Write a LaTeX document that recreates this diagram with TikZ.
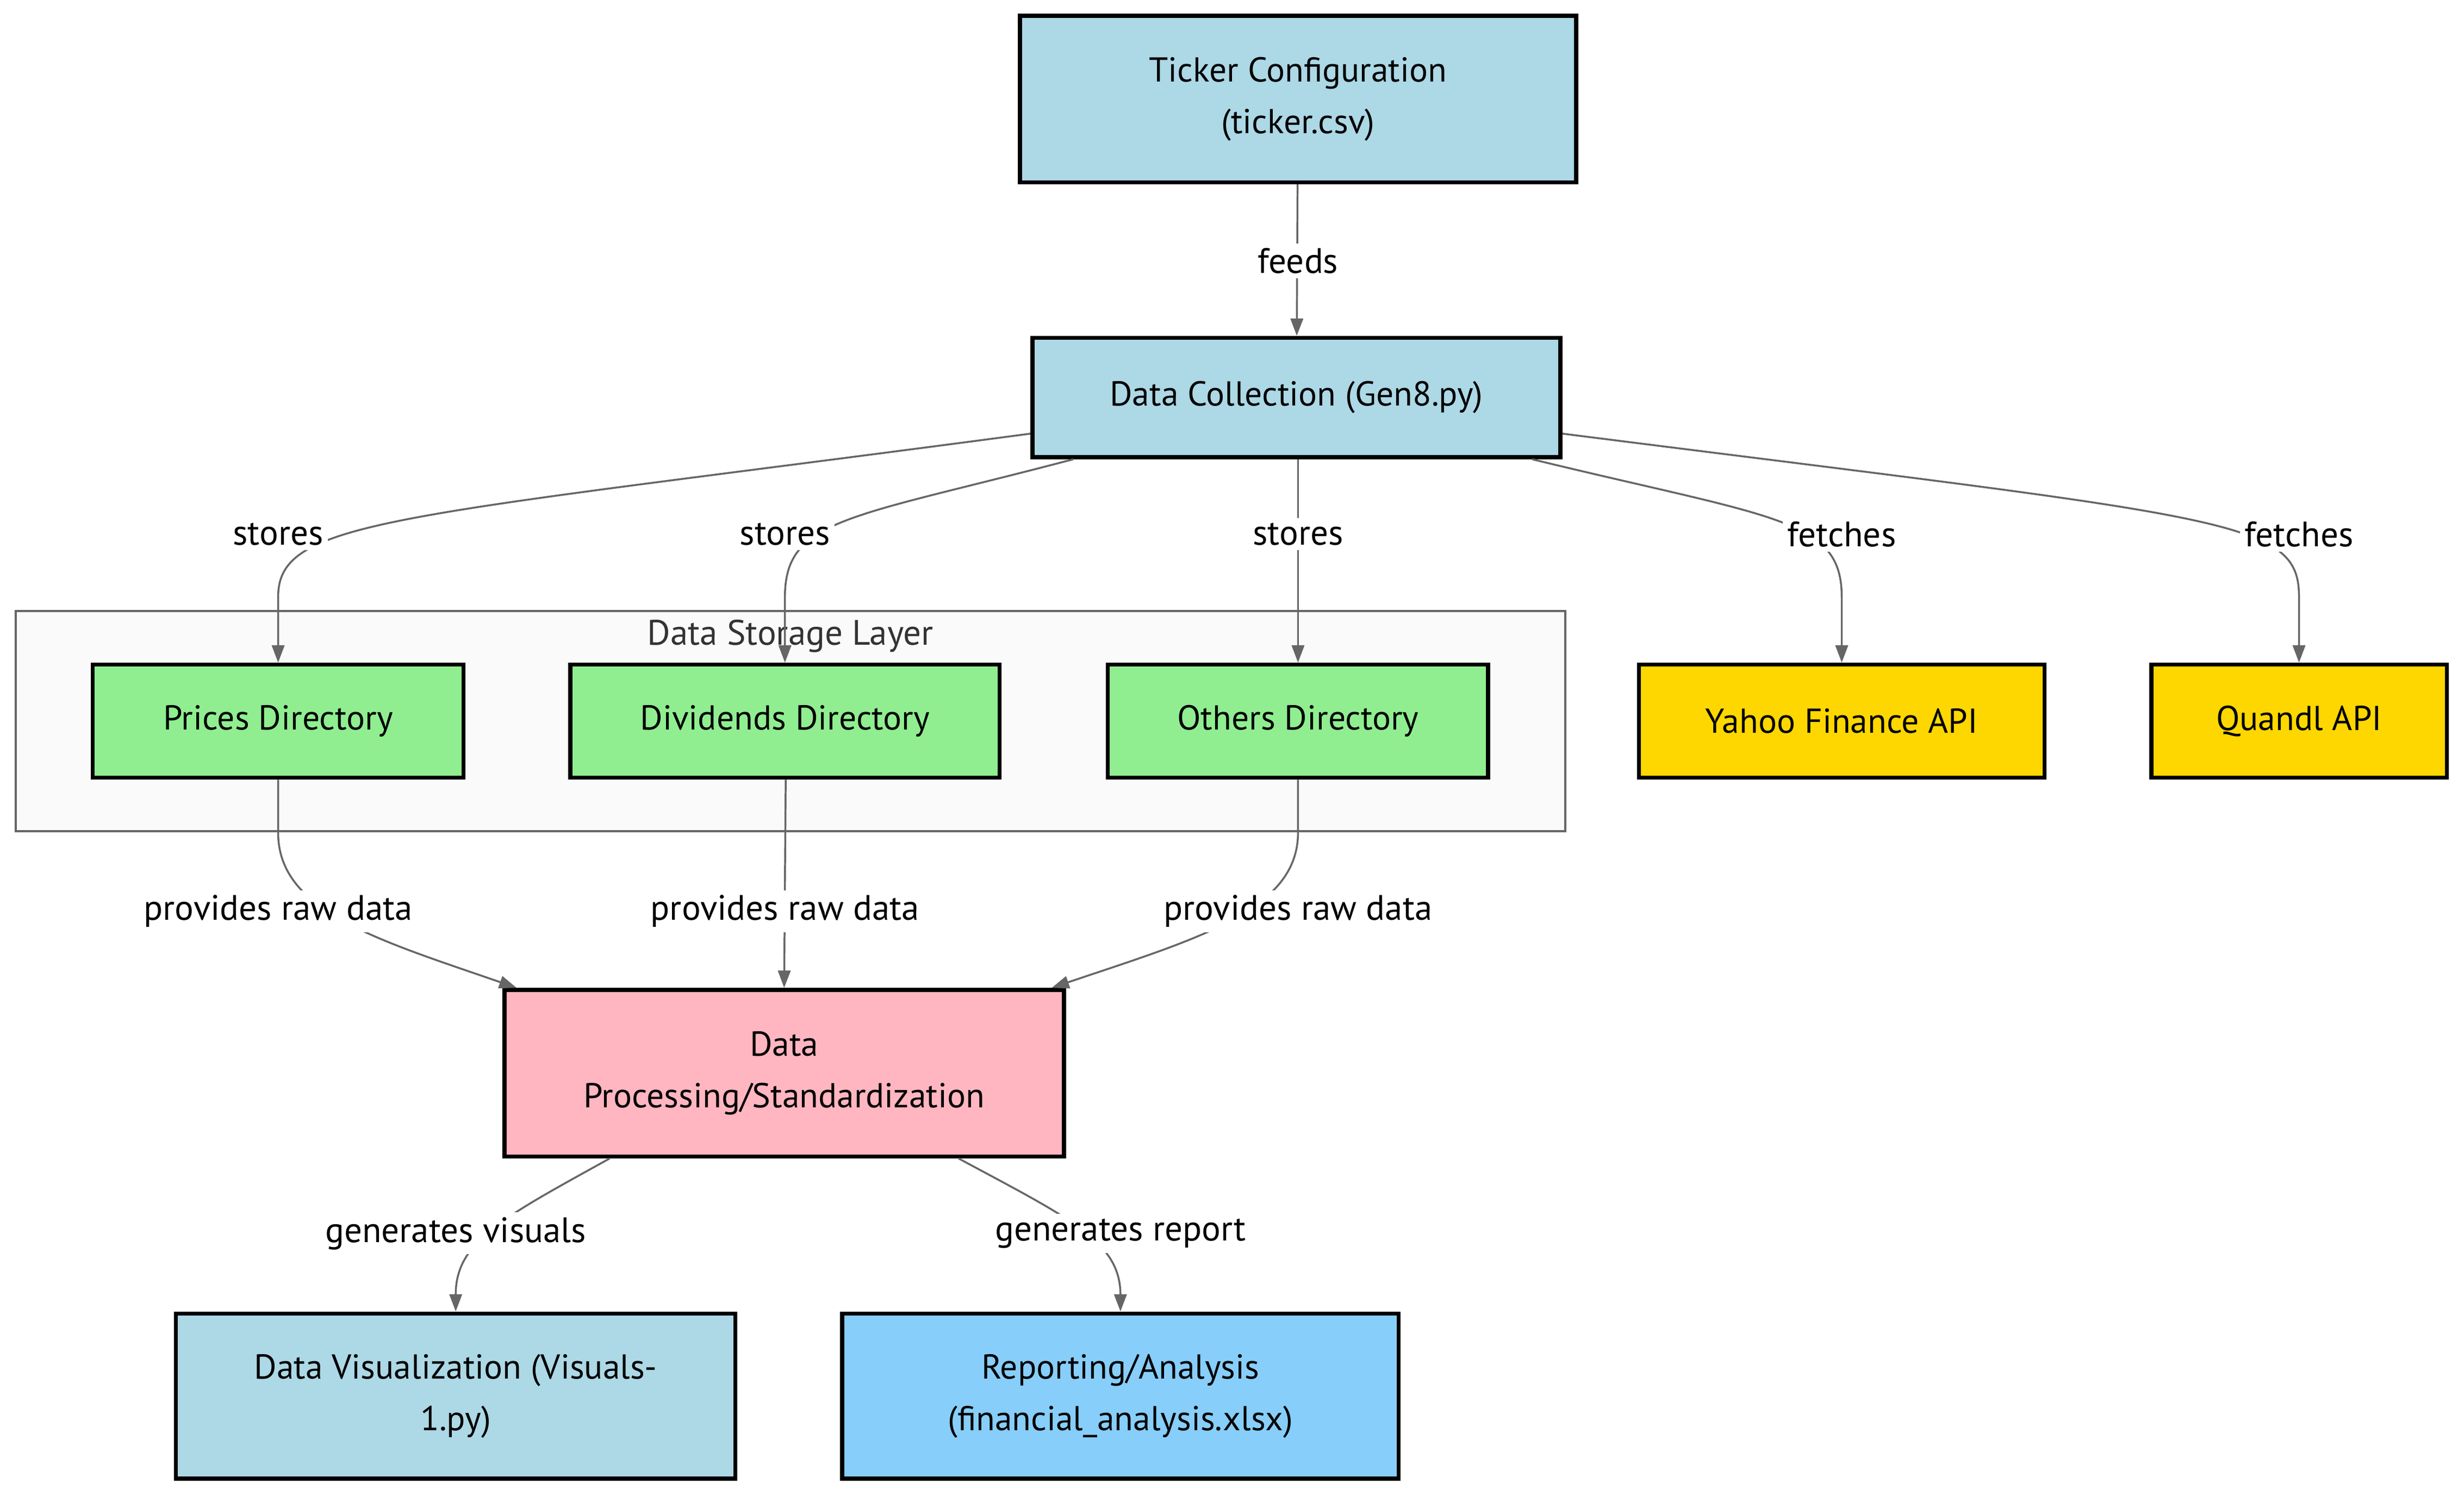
\documentclass[tikz,border=0pt]{standalone}
\usepackage{fontspec}
\setmainfont{PT Sans}
\usetikzlibrary{arrows.meta}
\definecolor{cfgblue}{HTML}{ADD8E6}
\definecolor{dirgreen}{HTML}{90EE90}
\definecolor{apigold}{HTML}{FFD700}
\definecolor{procpink}{HTML}{FFB6C1}
\definecolor{repblue}{HTML}{87CEFA}
\definecolor{edgegray}{HTML}{666666}
\definecolor{layerfill}{HTML}{FAFAFA}
\definecolor{layertext}{HTML}{333333}

\begin{document}
\begin{tikzpicture}[x=1pt, y=-1pt,
	box/.style = {draw=black, line width=2.6pt, align=center, inner sep=0pt,
		font=\fontsize{22}{33}\selectfont},
	edge/.style = {draw=edgegray, line width=1.2pt, -{Triangle[length=11pt,width=8pt]}},
	lbl/.style = {fill=white, inner sep=3pt, font=\fontsize{22.5}{26}\selectfont},
]
	\useasboundingbox (0,0) rectangle (1568,952);

	\def \rowDir {459};
	\def \hDir {72};

%storage layer
	\draw[draw=edgegray, line width=1.4pt, fill=layerfill] (10,389) rectangle (996,529);
	\node[text=layertext, font=\fontsize{22.5}{26}\selectfont] (layer) at (503,405) {Data Storage Layer};

%boxes
	\node[box, fill=cfgblue, minimum width=354pt, minimum height=106pt] (ticker) at (826,63)
		{Ticker Configuration\\(ticker.csv)};
	\node[box, fill=cfgblue, minimum width=336pt, minimum height=76pt] (collect) at (825,253)
		{Data Collection (Gen8.py)};
	\node[box, fill=dirgreen, minimum width=236pt, minimum height=\hDir pt] (prices) at (177,\rowDir) {Prices Directory};
	\node[box, fill=dirgreen, minimum width=273pt, minimum height=\hDir pt] (dividends) at (499.5,\rowDir) {Dividends Directory};
	\node[box, fill=dirgreen, minimum width=242pt, minimum height=\hDir pt] (others) at (826,\rowDir) {Others Directory};
	\node[box, fill=apigold, minimum width=258pt, minimum height=\hDir pt] (yahoo) at (1172,\rowDir) {Yahoo Finance API};
	\node[box, fill=apigold, minimum width=188pt, minimum height=\hDir pt] (quandl) at (1463,\rowDir) {Quandl API};
	\node[box, fill=procpink, minimum width=356pt, minimum height=106pt] (process) at (499,683)
		{Data\\Processing/Standardization};
	\node[box, fill=cfgblue, minimum width=356pt, minimum height=105pt] (visual) at (290,888.5)
		{Data Visualization (Visuals-\\1.py)};
	\node[box, fill=repblue, minimum width=354pt, minimum height=105pt] (report) at (713,888.5)
		{Reporting/Analysis\\(financial\_analysis.xlsx)};

%connectors
	\draw[edge] (ticker) -- (collect);
	\draw[edge] ([yshift=-23pt]collect.west) .. controls (250,330) and (177,330) .. (177,380) -- (prices.north);
	\draw[edge] ([xshift=-142pt]collect.south) .. controls (540,330) and (499.5,330) .. (499.5,380) -- (dividends.north);
	\draw[edge] ([xshift=1pt]collect.south) -- (others.north);
	\draw[edge] ([xshift=150pt]collect.south) .. controls (1130,330) and (1172,330) .. (1172,380) -- (yahoo.north);
	\draw[edge] ([yshift=-23pt]collect.east) .. controls (1420,330) and (1463,330) .. (1463,380) -- (quandl.north);
	\draw[edge] (prices.south) -- (177,530) .. controls (177,580) and (240,598) .. ([xshift=9pt]process.north west);
	\draw[edge] ([xshift=0.5pt]dividends.south) -- (process.north);
	\draw[edge] (others.south) -- (826,530) .. controls (826,580) and (760,598) .. ([xshift=-9pt]process.north east);
	\draw[edge] ([xshift=-111pt]process.south) .. controls (320,775) and (290,790) .. (visual.north);
	\draw[edge] ([xshift=111pt]process.south) .. controls (680,775) and (713,790) .. (report.north);

%edge labels
	\node[lbl] (lfeeds) at (826,166) {feeds};
	\node[lbl] (lstoreP) at (177,340) {stores};
	\node[lbl] (lstoreD) at (499.5,340) {stores};
	\node[lbl] (lstoreO) at (826,340) {stores};
	\node[lbl] (lfetchY) at (1172,340) {fetches};
	\node[lbl] (lfetchQ) at (1463,340) {fetches};
	\node[lbl] (lrawP) at (177,580) {provides raw data};
	\node[lbl] (lrawD) at (499.5,580) {provides raw data};
	\node[lbl] (lrawO) at (826,580) {provides raw data};
	\node[lbl] (lvis) at (290,785) {generates visuals};
	\node[lbl] (lrep) at (713,785) {generates report};
\end{tikzpicture}
\end{document}
